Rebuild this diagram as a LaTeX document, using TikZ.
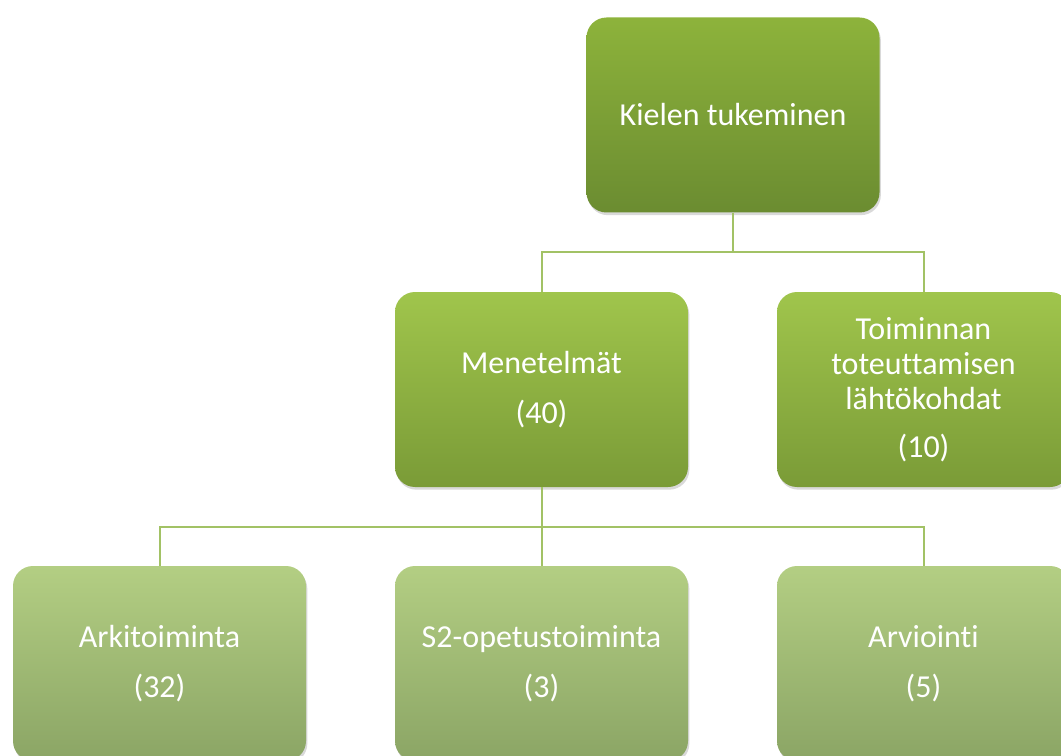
\documentclass[tikz,border=0pt]{standalone}
\usepackage{fontspec}
\setmainfont[Ligatures=NoCommon]{Carlito}
\usetikzlibrary{shadows}

\definecolor{topA}{HTML}{8DB33B}
\definecolor{botA}{HTML}{6B8C31}
\definecolor{topB}{HTML}{A0C54C}
\definecolor{botB}{HTML}{7A9B37}
\definecolor{topC}{HTML}{B3CE83}
\definecolor{botC}{HTML}{8BA565}
\definecolor{linkcol}{HTML}{A2C265}

\begin{document}
\begin{tikzpicture}[
  x=0.75pt, y=-0.75pt,
  font=\fontsize{24}{26.5}\selectfont,
  box/.style={
    rounded corners=15pt,
    minimum width=219.75pt,
    minimum height=146.25pt,
    align=center,
    text=white,
    inner sep=2pt,
    drop shadow={shadow xshift=1pt, shadow yshift=-2pt, opacity=0.25, fill=black!60}
  },
  rootbox/.style={box, top color=topA, bottom color=botA},
  midbox/.style={box, top color=topB, bottom color=botB},
  leafbox/.style={box, top color=topC, bottom color=botC},
  link/.style={draw=linkcol, line width=1.5pt}
]

\useasboundingbox (0,0) rectangle (1061,756);
\clip (0,0) rectangle (1061,756);

% Top level
\node[rootbox] (root) at (733,115) {Kielen tukeminen};

% Second level
\node[midbox] (meth) at (541.5,389.5) {Menetelmät\\[11pt](40)};
\node[midbox] (base) at (923.5,389.5) {Toiminnan\\toteuttamisen\\lähtökohdat\\[9pt](10)};

% Third level
\node[leafbox] (arki) at (159.5,663.5) {Arkitoiminta\\[11pt](32)};
\node[leafbox] (stwo) at (541.5,663.5) {S2-opetustoiminta\\[11pt](3)};
\node[leafbox] (arvi) at (923.5,663.5) {Arviointi\\[11pt](5)};

% Connectors
\coordinate (fork1) at ([yshift=-29.25pt]root.south);
\draw[link] (root.south) -- (fork1) -| (meth.north);
\draw[link] (fork1) -| (base.north);

\coordinate (fork2) at ([yshift=-30pt]meth.south);
\draw[link] (meth.south) -- (fork2) -| (arki.north);
\draw[link] (fork2) -- (stwo.north);
\draw[link] (fork2) -| (arvi.north);

\end{tikzpicture}
\end{document}
